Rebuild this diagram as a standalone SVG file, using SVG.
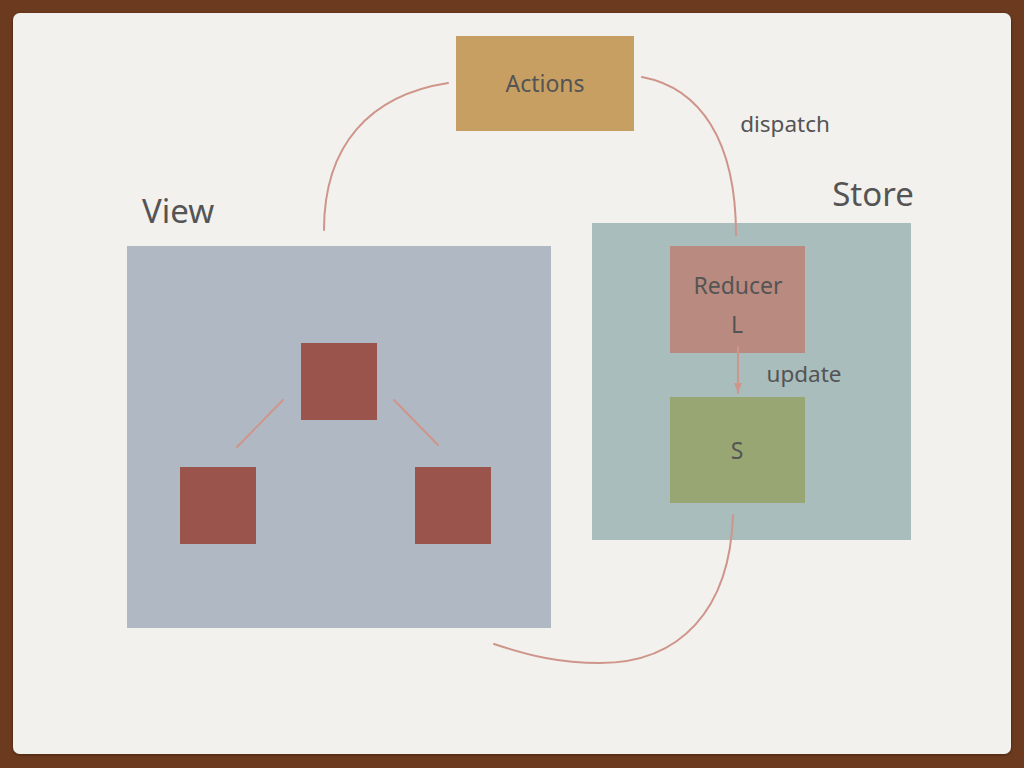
<svg xmlns="http://www.w3.org/2000/svg" width="1024" height="768" viewBox="0 0 1024 768">
<style>
.lbl{font-family:"Noto Sans","Liberation Sans",sans-serif;fill:#545454;text-anchor:middle}
.node{font-size:23px}
.big{font-size:33px}
.edge{font-size:22.5px}
.conn{fill:none;stroke:#cf958a;stroke-width:2;stroke-linecap:round}
</style>
<defs>
<marker id="arr" markerWidth="12" markerHeight="12" refX="10" refY="6" orient="auto" markerUnits="userSpaceOnUse" viewBox="0 0 12 12">
<path d="M0,2 L10,6 L0,10 Z" fill="#cf958a"/>
</marker>
<filter id="sh" x="-5%" y="-5%" width="110%" height="110%">
<feDropShadow dx="0" dy="1" stdDeviation="1.5" flood-color="#2a1205" flood-opacity="0.6"/>
</filter>
</defs>
<rect x="0" y="0" width="1024" height="768" fill="#6c3b1f"/>
<rect x="13" y="13" width="998" height="741" rx="7" fill="#f2f1ee" filter="url(#sh)"/>

<g id="view">
<rect x="127" y="246" width="424" height="382" fill="#b0b8c3"/>
<text class="lbl big" x="178" y="223">View</text>
</g>
<g id="view-top"><rect x="301" y="343" width="76" height="77" fill="#9b544c"/></g>
<g id="view-left"><rect x="180" y="467" width="76" height="77" fill="#9b544c"/></g>
<g id="view-right"><rect x="415" y="467" width="76" height="77" fill="#9b544c"/></g>

<g id="store">
<rect x="592" y="223" width="319" height="317" fill="#a8bdbc"/>
<text class="lbl big" x="873" y="206">Store</text>
</g>
<g id="actions">
<rect x="456" y="36" width="178" height="95" fill="#c79f62"/>
<text class="lbl node" x="545" y="92">Actions</text>
</g>
<g id="reducer">
<rect x="670" y="246" width="135" height="107" fill="#b98b80"/>
<text class="lbl node" x="738" y="294">Reducer</text>
<text class="lbl node" x="737" y="333">L</text>
</g>
<g id="state">
<rect x="670" y="397" width="135" height="106" fill="#98a673"/>
<text class="lbl node" x="737" y="459">S</text>
</g>

<g id="connectors">
<path class="conn" d="M448,83 C370,95 324,145 324,230"/>
<path class="conn" d="M642,77 C700,88 736,140 736,235"/>
<text class="lbl edge" x="785" y="132">dispatch</text>
<path class="conn" d="M738,347 L738,393" marker-end="url(#arr)"/>
<text class="lbl edge" x="804" y="382">update</text>
<path class="conn" d="M733,515 C730,610 680,663 600,663 C560,663 530,656 494,644"/>
<path class="conn" d="M283,400 L237,447" stroke-width="1.6"/>
<path class="conn" d="M394,400 L438,445" stroke-width="1.6"/>
</g>
</svg>
